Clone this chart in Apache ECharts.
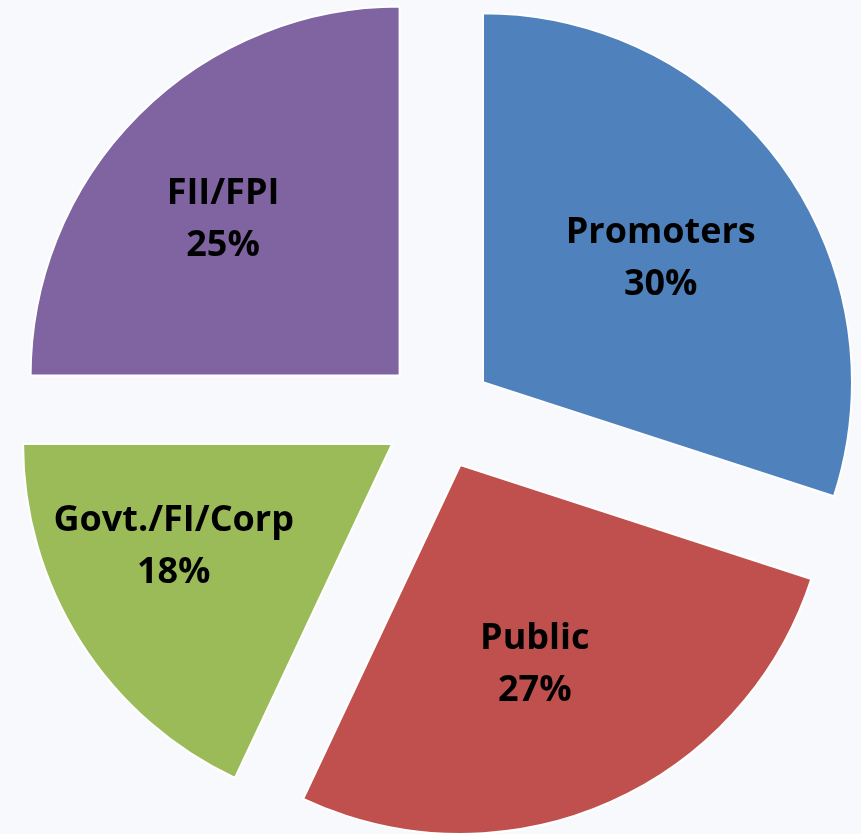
<!DOCTYPE html>
<html>
<head>
<meta charset="utf-8">
<script src="https://cdn.jsdelivr.net/npm/echarts@6/dist/echarts.min.js"></script>
<style>
html,body{margin:0;padding:0;background:#F8F9FC;}
#chart{width:861px;height:834px;}
</style>
</head>
<body>
<div id="chart"></div>
<script>
var categories = ['Promoters', 'Public', 'Govt./FI/Corp', 'FII/FPI'];
var values = [30, 27, 18, 25];
var colors = ['#4F81BD', '#C0504D', '#9BBB59', '#8064A2'];
var labelShifts = [[26, -13], [0, 28], [-60, 2], [-44, -23]];

var chart = echarts.init(document.getElementById('chart'));
var data = categories.map(function (c, i) {
  return {
    name: c,
    value: values[i],
    selected: true,
    itemStyle: { color: colors[i] }
  };
});
chart.setOption({
  backgroundColor: '#F8F9FC',
  animation: false,
  series: [{
    type: 'pie',
    center: [438.5, 414.5],
    radius: [0, 369],
    startAngle: 90,
    clockwise: true,
    selectedMode: 'multiple',
    selectedOffset: 55,
    avoidLabelOverlap: false,
    itemStyle: { borderColor: '#ffffff', borderWidth: 2 },
    emphasis: { disabled: true },
    label: {
      show: true,
      position: 'inside',
      formatter: '{b}\n{c}%',
      fontFamily: 'Open Sans',
      fontWeight: 'bold',
      fontSize: 36,
      lineHeight: 52,
      color: '#000000',
      align: 'center'
    },
    labelLayout: function (p) {
      var s = labelShifts[p.dataIndex];
      return { dx: s[0], dy: s[1] };
    },
    labelLine: { show: false },
    data: data
  }]
});
</script>
</body>
</html>
